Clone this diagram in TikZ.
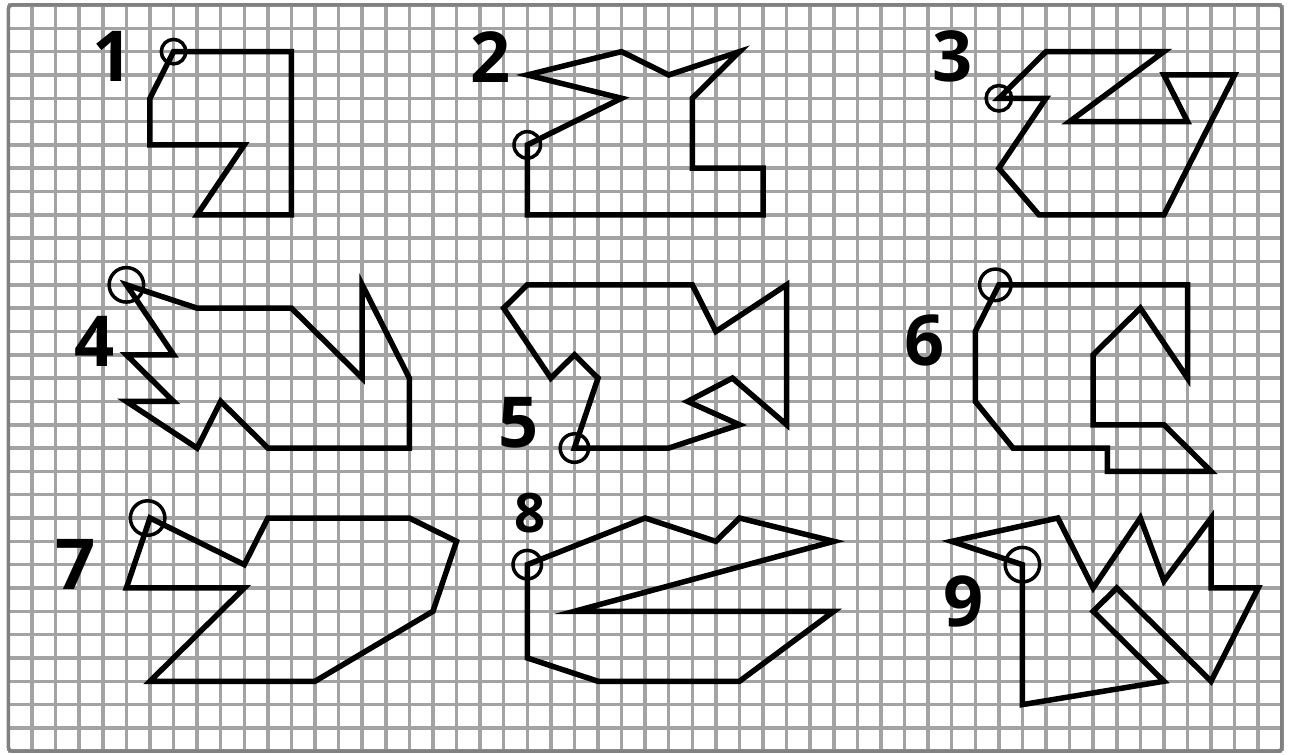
\documentclass[tikz,border=0pt]{standalone}
\usepackage{fontspec}
\setmainfont{Open Sans}
\usetikzlibrary{positioning}

\begin{document}
\begin{tikzpicture}[
	x=0.4716cm, y=-0.4664cm,
	gridline/.style={draw=black!36, line width=0.07cm},
	figline/.style={draw=black, line width=0.11cm, line join=miter},
	startmark/.style={circle, draw=black, line width=0.07cm, minimum size=#1, inner sep=0pt},
	startmark/.default=0.5cm,
	numlabel/.style={font=\bfseries\fontsize{40}{40}\selectfont, inner sep=0pt},
	smalllabel/.style={font=\bfseries\fontsize{31}{31}\selectfont, inner sep=0pt}
	]
	\useasboundingbox[fill=white] (-0.36,-0.214) rectangle (54.39,32.12);
	
	% squared paper
	\foreach \i in {0,...,54} \draw[gridline] (\i,0) -- (\i,32);
	\foreach \j in {0,...,32} \draw[gridline] (0,\j) -- (54,\j);
	\draw[gridline, draw=black!50, rounded corners=2pt] (0,0) rectangle (54,32);
	
	% figures, each one starts at its circle
	\draw[figline] (7,2) -- (12,2) -- (12,9) -- (8,9) -- (10,6) -- (6,6) -- (6,4) -- cycle;
	\draw[figline] (22,6) -- (26,4) -- (22,3) -- (26,2) -- (28,3) -- (31,2) -- (29,4) -- (29,7) -- (32,7) -- (32,9) -- (22,9) -- cycle;
	\draw[figline] (42,4) -- (44,2) -- (49,2) -- (45,5) -- (50,5) -- (49,3) -- (52,3) -- (49,9) -- (43.7,9) -- (42,7) -- (44,4) -- cycle;
	\draw[figline] (5,12) -- (8,13) -- (12,13) -- (15,16) -- (15,12) -- (17,16) -- (17,19) -- (11,19) -- (9,17) -- (8,19) -- (5,17) -- (7,17) -- (5,15) -- (7,15) -- cycle;
	\draw[figline] (24,19) -- (28,19) -- (31,18) -- (28.8,17) -- (30.7,16) -- (33,18) -- (33,12) -- (30,14) -- (29,12) -- (22,12) -- (21,13) -- (23,16) -- (24,15) -- (25,16) -- cycle;
	\draw[figline] (42,12) -- (50,12) -- (50,16) -- (48,13) -- (46,15) -- (46,18) -- (49,18) -- (51,20) -- (46.6,20) -- (46.6,19) -- (42.6,19) -- (41,17) -- (41,14) -- cycle;
	\draw[figline] (6,22) -- (10,24) -- (11,22) -- (17,22) -- (19,23) -- (18,26) -- (13,29) -- (6,29) -- (10,25) -- (5,25) -- cycle;
	\draw[figline] (22,24) -- (27,22) -- (30,23) -- (31,22) -- (35,23) -- (24,26) -- (35,26) -- (31,29) -- (25,29) -- (22,28) -- cycle;
	\draw[figline] (43,24) -- (40,23) -- (44.5,22) -- (46,25) -- (48,22) -- (49,24.7) -- (51,22) -- (51,25) -- (53,25) -- (51,29) -- (47,25) -- (46,26) -- (49,29) -- (43,30) -- cycle;
	
	\node[startmark=0.49cm] (s1) at (7,2) {};
	\node[startmark=0.53cm] (s2) at (22,6) {};
	\node[startmark=0.51cm] (s3) at (42,4) {};
	\node[startmark=0.69cm] (s4) at (5,12) {};
	\node[startmark=0.57cm] (s5) at (24,19) {};
	\node[startmark=0.63cm] (s6) at (41.85,12) {};
	\node[startmark=0.69cm] (s7) at (5.9,22) {};
	\node[startmark=0.57cm] (s8) at (22,24) {};
	\node[startmark=0.69cm] (s9) at (43,24) {};
	
	\node[numlabel] (n1) at (4.43,2.19) {1};
	\node[numlabel] (n2) at (20.46,2.23) {2};
	\node[numlabel] (n3) at (40.05,2.19) {3};
	\node[numlabel] (n4) at (3.63,14.41) {4};
	\node[numlabel] (n5) at (21.65,17.92) {5};
	\node[numlabel] (n6) at (38.87,14.37) {6};
	\node[numlabel] (n7) at (2.86,23.97) {7};
	\node[smalllabel] (n8) at (22.12,21.78) {8};
	\node[numlabel] (n9) at (40.52,25.56) {9};
\end{tikzpicture}
\end{document}
